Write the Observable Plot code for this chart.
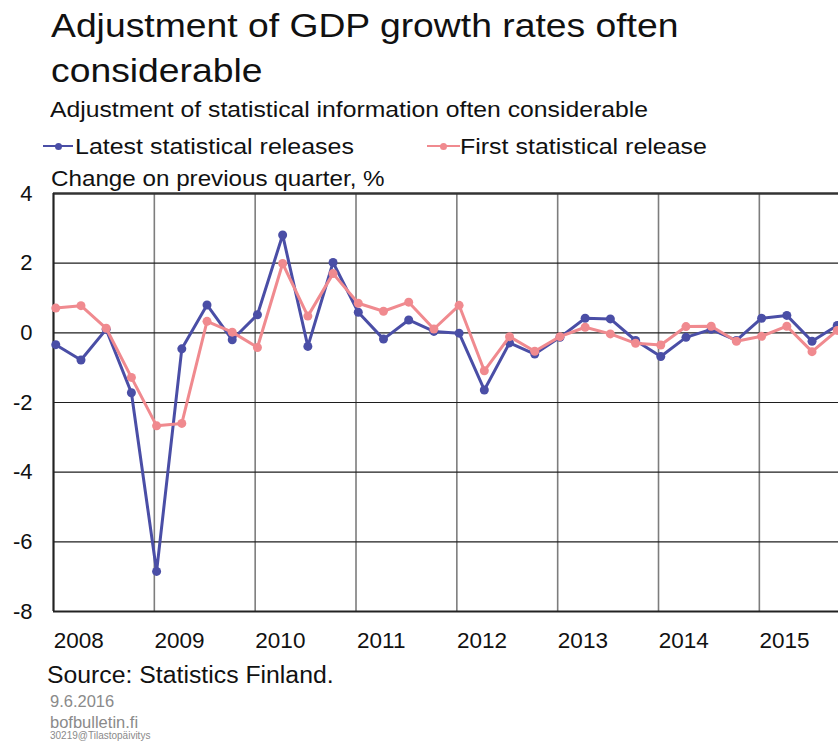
<!DOCTYPE html>
<html>
<head>
<meta charset="utf-8">
<script src="https://cdn.jsdelivr.net/npm/d3@7"></script>
<script src="https://cdn.jsdelivr.net/npm/@observablehq/plot@0.6"></script>
<style>
  html, body { margin: 0; padding: 0; background: #fff; }
  body { width: 838px; height: 745px; position: relative; overflow: hidden;
         font-family: "Liberation Sans", Arial, sans-serif; color: #111; }
  .t { position: absolute; white-space: nowrap; line-height: 1; transform-origin: 0 0; }
  .title { font-size: 34px; line-height: 44.5px; transform: scaleX(1.097); }
  .sx { transform: scaleX(1.1); }
  .sub { transform: scaleX(1.124); }
  .leg { transform: scaleX(1.135); }
  .gray { color: #8a8a8a; }
  .sw { position: absolute; height: 2px; }
  .sd { position: absolute; width: 7px; height: 7px; border-radius: 50%; }
  #chart { position: absolute; left: 0; top: 180px; }
</style>
</head>
<body>
<div class="t title" style="left:51px; top:3px;">Adjustment of GDP growth rates often<br>considerable</div>
<div class="t sub" style="left:50px; top:99px; font-size:22px;">Adjustment of statistical information often considerable</div>

<div class="sw" id="swBlue" style="left:43px; top:145px; width:30px;"></div>
<div class="sd" id="sdBlue" style="left:54.5px; top:142.5px;"></div>
<div class="t leg" style="left:75px; top:135.7px; font-size:22px;">Latest statistical releases</div>

<div class="sw" id="swPink" style="left:427px; top:145px; width:33px;"></div>
<div class="sd" id="sdPink" style="left:440px; top:142.5px;"></div>
<div class="t leg" style="left:460px; top:135.7px; font-size:22px;">First statistical release</div>

<div class="t sx" style="left:51px; top:168px; font-size:22px;">Change on previous quarter, %</div>

<div id="chart"></div>

<div class="t" style="left:47px; top:663.5px; font-size:23.5px; transform: scaleX(1.055);">Source: Statistics Finland.</div>
<div class="t gray" style="left:50px; top:692.8px; font-size:16.5px;">9.6.2016</div>
<div class="t gray" style="left:50px; top:714px; font-size:16.5px;">bofbulletin.fi</div>
<div class="t gray" style="left:50px; top:730.5px; font-size:10px;">30219@Tilastopäivitys</div>

<script>
// ---- data ----
const years = ["2008", "2009", "2010", "2011", "2012", "2013", "2014", "2015"];
const quarterNames = ["Q1", "Q2", "Q3", "Q4"];
// Latest statistical releases, change on previous quarter, %
const latest = [-0.34, -0.78, 0.10, -1.72, -6.85, -0.46, 0.80, -0.20,
                 0.52, 2.81, -0.39, 2.02, 0.59, -0.18, 0.37, 0.04,
                -0.01, -1.64, -0.29, -0.61, -0.13, 0.42, 0.40, -0.22,
                -0.68, -0.13, 0.10, -0.22, 0.42, 0.50, -0.24, 0.21];
// First statistical release, change on previous quarter, %
const first = [0.71, 0.78, 0.13, -1.28, -2.67, -2.60, 0.33, 0.02,
              -0.42, 1.99, 0.48, 1.70, 0.85, 0.62, 0.88, 0.11,
               0.79, -1.09, -0.11, -0.53, -0.11, 0.16, -0.03, -0.30,
              -0.35, 0.18, 0.19, -0.24, -0.10, 0.19, -0.54, 0.07];
const yTicks = [-8, -6, -4, -2, 0, 2, 4];
const seriesNames = ["Latest statistical releases", "First statistical release"];

const blue = "#4a4ea6";
const pink = "#f08a8f";

document.getElementById("swBlue").style.background = blue;
document.getElementById("sdBlue").style.background = blue;
document.getElementById("swPink").style.background = pink;
document.getElementById("sdPink").style.background = pink;

// ---- build rows ----
const quarters = years.flatMap(y => quarterNames.map(q => `${y}${q}`));
const rows = quarters.map((q, i) => ({ quarter: q, pos: i + 0.09, latest: latest[i], first: first[i] }));
const yearStarts = years.map((_, k) => 4 * k);
const yearLabelPos = years.map((_, k) => 4 * k + 1);

const chart = Plot.plot({
  width: 838,
  height: 476,
  marginTop: 13,
  marginBottom: 45,
  marginLeft: 53,
  marginRight: 0,
  style: { fontFamily: "'Liberation Sans', Arial, sans-serif", fontSize: "22px", color: "#111", background: "transparent" },
  x: { domain: [0, 31.14], axis: null },
  y: { domain: [-8, 4], axis: null },
  marks: [
    Plot.ruleX(yearStarts, { stroke: "#7d7d7d", strokeWidth: 1.6 }),
    Plot.ruleY(yTicks, { stroke: "#1e1e1e", strokeWidth: 1.2 }),
    Plot.ruleY([4], { stroke: "#333", strokeWidth: 2.6 }),
    Plot.ruleY([-8], { stroke: "#222", strokeWidth: 1.8 }),
    Plot.ruleX([0], { stroke: "#222", strokeWidth: 2 }),
    Plot.line(rows, { x: "pos", y: "latest", stroke: blue, strokeWidth: 3, title: () => seriesNames[0] }),
    Plot.dot(rows, { x: "pos", y: "latest", fill: blue, r: 4.5 }),
    Plot.line(rows, { x: "pos", y: "first", stroke: pink, strokeWidth: 3, title: () => seriesNames[1] }),
    Plot.dot(rows, { x: "pos", y: "first", fill: pink, r: 4.5 }),
    Plot.axisX(yearLabelPos, {
      tickSize: 0, tickPadding: 21, fontSize: 22.5,
      tickFormat: d => years[(d - 1) / 4], label: null
    }),
    Plot.axisY(yTicks, {
      tickSize: 0, tickPadding: 21, fontSize: 22,
      tickFormat: d => String(d), label: null
    })
  ]
});
document.getElementById("chart").appendChild(chart);
</script>
</body>
</html>
